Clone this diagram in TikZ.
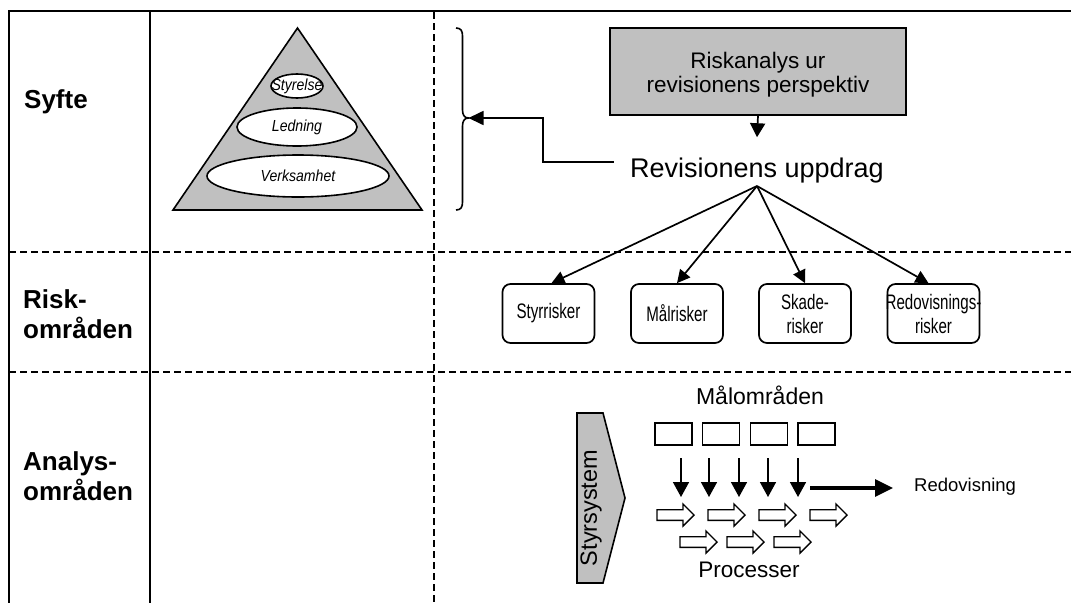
\documentclass[tikz,border=0pt]{standalone}
\usepackage{fontspec}
\setmainfont{Liberation Sans}
\newfontfamily\narrowfont[FakeStretch=0.72]{Liberation Sans}
\newfontfamily\ellfont[FakeStretch=0.88]{Liberation Sans}
\usetikzlibrary{arrows.meta,shapes.geometric}
\definecolor{boxgray}{RGB}{192,192,192}
\newcommand{\blockarrow}[2]{\draw[line width=1.4pt, fill=white] (#1,#2-5.3) -- ++(26,0) -- ++(0,-5.7) -- ++(11,11) -- ++(-11,11) -- ++(0,-5.7) -- ++(-26,0) -- cycle;}
\begin{document}
\begin{tikzpicture}[x=1pt,y=-1pt,
  frame/.style={line width=2pt},
  gridline/.style={line width=1.8pt, dash pattern=on 7pt off 4pt},
  lbl/.style={font=\bfseries\fontsize{26}{30}\selectfont, align=left, inner sep=0pt},
  riskbox/.style={draw, line width=1.7pt, rounded corners=8pt, minimum width=92pt, minimum height=59pt, align=center, font=\narrowfont\fontsize{21}{24}\selectfont, inner sep=0pt},
  ell/.style={ellipse, draw, fill=white, line width=1.6pt, inner sep=0pt},
  elltext/.style={font=\ellfont\itshape\fontsize{16}{18}\selectfont, inner sep=0pt},
  mbox/.style={draw, line width=1.6pt, minimum width=37pt, minimum height=22pt, inner sep=0pt},
  arr/.style={line width=1.7pt, -{Triangle[length=13pt,width=13pt]}},
  downarr/.style={line width=1.6pt, -{Triangle[length=15pt,width=16pt]}},
  txt/.style={inner sep=0pt}]
\useasboundingbox (0,0) rectangle (1071,603);
% table lines
\draw[line width=2.4pt] (8,11) -- (1071,11);
\draw[frame] (9,10) -- (9,603);
\draw[frame] (150,11) -- (150,603);
\draw[gridline] (434,12) -- (434,603);
\draw[gridline] (9,252) -- (1071,252);
\draw[gridline] (9,372) -- (1071,372);
% row labels
\node[lbl, anchor=base west] (syfte) at (24,108) {Syfte};
\node[lbl, anchor=north west] (risk) at (23,289) {Risk-\\områden};
\node[lbl, anchor=north west] (analys) at (23,451) {Analys-\\områden};
% pyramid
\draw[fill=boxgray, line width=1.6pt] (297.5,28) -- (422,210) -- (173,210) -- cycle;
\node[ell, minimum width=182pt, minimum height=42pt] (verk) at (298,176) {};
\node[ell, minimum width=120pt, minimum height=38pt] (led) at (297,127) {};
\node[ell, minimum width=52pt, minimum height=24pt] (styr) at (297,86) {};
\node[elltext] at (verk) {Verksamhet};
\node[elltext] at (led) {Ledning};
\node[elltext] at (styr) {Styrelse};
% brace
\coordinate (bracetip) at (468.5,118);
\draw[line width=1.6pt] (456,28) .. controls (461,28) and (462.5,31) .. (462.5,36) -- (462.5,110) .. controls (462.5,115) and (464.5,118) .. (bracetip) .. controls (464.5,118) and (462.5,121) .. (462.5,126) -- (462.5,202) .. controls (462.5,207) and (461,210) .. (456,210);
% top box
\node[draw, fill=boxgray, line width=1.7pt, minimum width=296pt, minimum height=87pt, inner sep=0pt] (riskan) at (758,71.5) {};
\node[txt, align=center, font=\fontsize{22.5}{24}\selectfont] (riskantext) at (758,74.4) {Riskanalys ur\\revisionens perspektiv};
\node[txt, anchor=base, font=\fontsize{27}{30}\selectfont] (upp) at (757,177) {Revisionens uppdrag};
\draw[line width=1.7pt, -{Triangle[length=14pt,width=15pt]}] (riskan.south) -- ([yshift=20pt]upp.north);
\coordinate (uw) at ([xshift=-16pt,yshift=15pt]upp.base west);
\draw[line width=1.7pt, -{Triangle[length=15pt,width=14pt]}] (uw) -- ++(-71,0) |- (bracetip);
% risk boxes
\node[riskbox] (styrr) at (548.5,313.5) {Styrrisker};
\node[riskbox] (malr) at (677,313.5) {Målrisker};
\node[riskbox] (skader) at (805,313.5) {Skade-\\risker};
\node[riskbox] (redr) at (933.5,313.5) {\makebox[0pt]{Redovisnings-}\\risker};
\coordinate (fan) at (757,186);
\draw[arr] (fan) -- ([xshift=3pt]styrr.north);
\draw[arr] (fan) -- (malr.north);
\draw[arr] (fan) -- (skader.north);
\draw[arr] (fan) -- ([xshift=-5pt]redr.north);
% analysis area
\node[txt, font=\fontsize{23}{25}\selectfont] (malomr) at (760,395) {Målområden};
\node[mbox] (m1) at (673.5,434) {};
\node[mbox] (m2) at (721,434) {};
\node[mbox] (m3) at (769,434) {};
\node[mbox] (m4) at (816.5,434) {};
\foreach \i/\x in {1/681,2/709,3/739,4/768,5/798}{
  \coordinate (da\i) at (\x,458);
  \coordinate (db\i) at (\x,497);
  \draw[downarr] (da\i) -- (db\i);
}
\node[txt, anchor=west, font=\fontsize{18.5}{20}\selectfont] (redovtxt) at (914,487) {Redovisning};
\coordinate (ra) at (810,488);
\draw[line width=3.2pt, -{Triangle[length=18pt,width=17pt]}] (ra) -- ([xshift=-21pt]redovtxt.west |- ra);
\blockarrow{657}{515}
\blockarrow{708}{515}
\blockarrow{759}{515}
\blockarrow{810}{515}
\blockarrow{680}{542}
\blockarrow{727}{542}
\blockarrow{774}{542}
\node[txt, font=\fontsize{22.5}{24}\selectfont] (proc) at (749,570) {Processer};
\draw[fill=boxgray, line width=1.6pt] (577,413) -- (603,413) -- (625,498) -- (603,583) -- (577,583) -- cycle;
\node[txt, rotate=90, font=\fontsize{23.5}{25}\selectfont] (styrsys) at (591,508) {Styrsystem};
\end{tikzpicture}
\end{document}
